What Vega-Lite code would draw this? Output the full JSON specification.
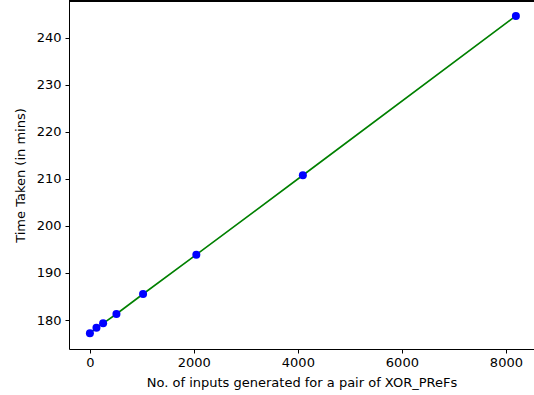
{
  "$schema": "https://vega.github.io/schema/vega-lite/v6.json",
  "width": 465,
  "height": 348,
  "autosize": {"type": "none"},
  "padding": {"left": 69, "top": 1, "right": 0, "bottom": 46},
  "background": "white",
  "config": {
    "view": {"stroke": null},
    "axis": {
      "labelFont": "DejaVu Sans",
      "titleFont": "DejaVu Sans",
      "labelFontSize": 13,
      "titleFontSize": 13,
      "labelColor": "#000000",
      "titleColor": "#000000",
      "titleFontWeight": "normal",
      "domainColor": "#000000",
      "tickColor": "#000000",
      "tickSize": 4,
      "grid": false
    }
  },
  "data": {
    "values": [
      {"inputs": 2, "time": 177.17},
      {"inputs": 128, "time": 178.36},
      {"inputs": 256, "time": 179.3},
      {"inputs": 512, "time": 181.28},
      {"inputs": 1024, "time": 185.53},
      {"inputs": 2048, "time": 193.9},
      {"inputs": 4096, "time": 210.8},
      {"inputs": 8192, "time": 244.7}
    ]
  },
  "encoding": {
    "x": {
      "field": "inputs",
      "type": "quantitative",
      "scale": {"domain": [-400, 8540], "nice": false, "zero": false},
      "axis": {
        "values": [0, 2000, 4000, 6000, 8000],
        "format": "d",
        "title": "No. of inputs generated for a pair of XOR_PReFs",
        "labelPadding": 3,
        "titlePadding": 7
      }
    },
    "y": {
      "field": "time",
      "type": "quantitative",
      "scale": {"domain": [173.83, 247.87], "nice": false, "zero": false},
      "axis": {
        "values": [180, 190, 200, 210, 220, 230, 240],
        "title": "Time Taken (in mins)",
        "labelPadding": 4,
        "titlePadding": 9
      }
    }
  },
  "layer": [
    {
      "mark": {"type": "line", "color": "#008000", "strokeWidth": 1.6}
    },
    {
      "mark": {"type": "point", "filled": true, "color": "#0000ff", "opacity": 1, "size": 64}
    },
    {
      "mark": {"type": "rule", "color": "#000000", "strokeWidth": 1},
      "encoding": {
        "x": {"datum": -400, "type": "quantitative"},
        "x2": {"datum": 8540},
        "y": {"datum": 247.87, "type": "quantitative"}
      }
    }
  ]
}
